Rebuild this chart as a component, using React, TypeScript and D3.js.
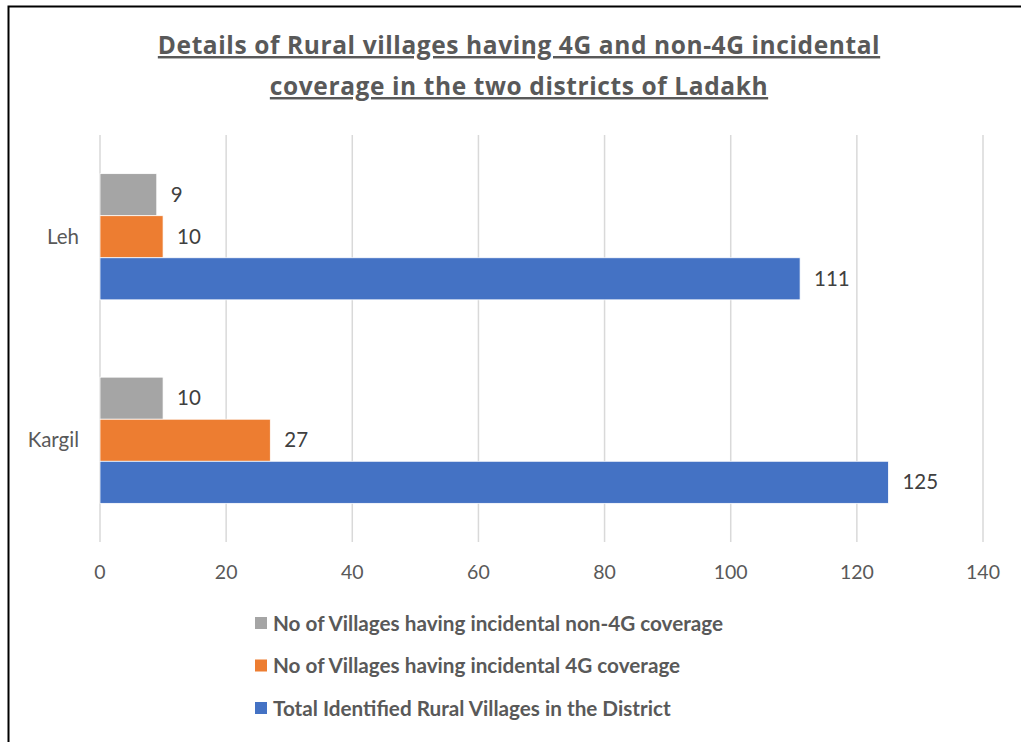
import { useEffect, useRef } from 'react';
import * as d3 from 'd3';

const categories = ['Leh', 'Kargil'];
const seriesNames = [
  'No of Villages having incidental non-4G coverage',
  'No of Villages having incidental 4G coverage',
  'Total Identified Rural Villages in the District',
];
const non4GVillages = [9, 10];
const incidental4GVillages = [10, 27];
const totalVillages = [111, 125];
const xTicks = [0, 20, 40, 60, 80, 100, 120, 140];
const titleLines = [
  'Details of Rural villages having 4G and non-4G incidental',
  'coverage in the two districts of Ladakh',
];

const colors = ['#a5a5a5', '#ed7d31', '#4472c4'];
const FONT = 'Lato, "Open Sans", sans-serif';
const TITLE_FONT = '"Open Sans", Lato, sans-serif';

export default function App() {
  const svgRef = useRef<SVGSVGElement | null>(null);

  useEffect(() => {
    if (!svgRef.current) return;
    const svg = d3.select(svgRef.current);
    svg.selectAll('*').remove();

    const width = 1021;
    const height = 742;
    const plot = { left: 100, right: 983, top: 135, bottom: 542 };

    svg.attr('width', width).attr('height', height).attr('viewBox', `0 0 ${width} ${height}`);

    svg
      .append('rect')
      .attr('x', 0)
      .attr('y', 0)
      .attr('width', width)
      .attr('height', height)
      .attr('fill', '#fff');

    // outer frame
    svg
      .append('rect')
      .attr('x', 8.5)
      .attr('y', 6.5)
      .attr('width', 1040)
      .attr('height', 800)
      .attr('fill', 'none')
      .attr('stroke', '#000')
      .attr('stroke-width', 2);

    const series = seriesNames.map((name, i) => ({
      name,
      color: colors[i],
      values: [non4GVillages, incidental4GVillages, totalVillages][i],
    }));

    const x = d3.scaleLinear().domain([0, 140]).range([plot.left, plot.right]);
    const y = d3
      .scaleBand()
      .domain(categories)
      .range([plot.top, plot.bottom])
      .paddingInner(0.38)
      .paddingOuter(0.19);
    const ySub = d3
      .scaleBand()
      .domain(seriesNames)
      .range([0, y.bandwidth()]);

    // title
    const title = svg
      .append('text')
      .attr('text-anchor', 'middle')
      .attr('font-family', TITLE_FONT)
      .attr('font-weight', 'bold')
      .attr('font-size', 24.5)
      .attr('letter-spacing', 0.6)
      .attr('fill', '#595959')
      .attr('text-decoration', 'underline');
    titleLines.forEach((line, i) => {
      title
        .append('tspan')
        .attr('x', 519)
        .attr('y', 54 + i * 41)
        .text(line);
    });

    // gridlines
    svg
      .append('g')
      .selectAll('line')
      .data(xTicks)
      .join('line')
      .attr('x1', (d) => x(d))
      .attr('x2', (d) => x(d))
      .attr('y1', plot.top)
      .attr('y2', plot.bottom)
      .attr('stroke', '#d9d9d9')
      .attr('stroke-width', 1.5);

    // tick labels
    svg
      .append('g')
      .selectAll('text')
      .data(xTicks)
      .join('text')
      .attr('x', (d) => x(d))
      .attr('y', 579)
      .attr('text-anchor', 'middle')
      .attr('font-family', FONT)
      .attr('font-size', 19.5)
      .attr('fill', '#595959')
      .text((d) => d);

    // category labels
    svg
      .append('g')
      .selectAll('text')
      .data(categories)
      .join('text')
      .attr('x', 79)
      .attr('y', (d) => y(d)! + y.bandwidth() / 2 + 7)
      .attr('text-anchor', 'end')
      .attr('font-family', FONT)
      .attr('font-size', 20.5)
      .attr('fill', '#595959')
      .text((d) => d);

    // bars + labels
    series.forEach((s) => {
      const g = svg.append('g');
      g.selectAll('rect')
        .data(categories)
        .join('rect')
        .attr('x', x(0))
        .attr('y', (d) => y(d)! + ySub(s.name)!)
        .attr('width', (_, i) => x(s.values[i]) - x(0))
        .attr('height', ySub.bandwidth())
        .attr('fill', s.color)
        .attr('stroke', '#fff')
        .attr('stroke-width', 0.75);
      g.selectAll('text')
        .data(categories)
        .join('text')
        .attr('x', (_, i) => x(s.values[i]) + 14)
        .attr('y', (d) => y(d)! + ySub(s.name)! + ySub.bandwidth() / 2 + 7)
        .attr('font-family', FONT)
        .attr('font-size', 20.5)
        .attr('fill', '#404040')
        .text((_, i) => s.values[i]);
    });

    // legend
    const legend = svg
      .append('g')
      .selectAll('g')
      .data(series)
      .join('g')
      .attr('transform', (_, i) => `translate(255,${623 + i * 42.5})`);
    legend
      .append('rect')
      .attr('x', 0)
      .attr('y', -6)
      .attr('width', 12)
      .attr('height', 12)
      .attr('fill', (d) => d.color);
    legend
      .append('text')
      .attr('x', 18)
      .attr('y', 7.5)
      .attr('font-family', FONT)
      .attr('font-weight', 'bold')
      .attr('font-size', 20.7)
      .attr('fill', '#595959')
      .text((d) => d.name);
  }, []);

  return (
    <svg
      ref={svgRef}
      style={{ position: 'absolute', left: 0, top: 0, display: 'block' }}
    />
  );
}
